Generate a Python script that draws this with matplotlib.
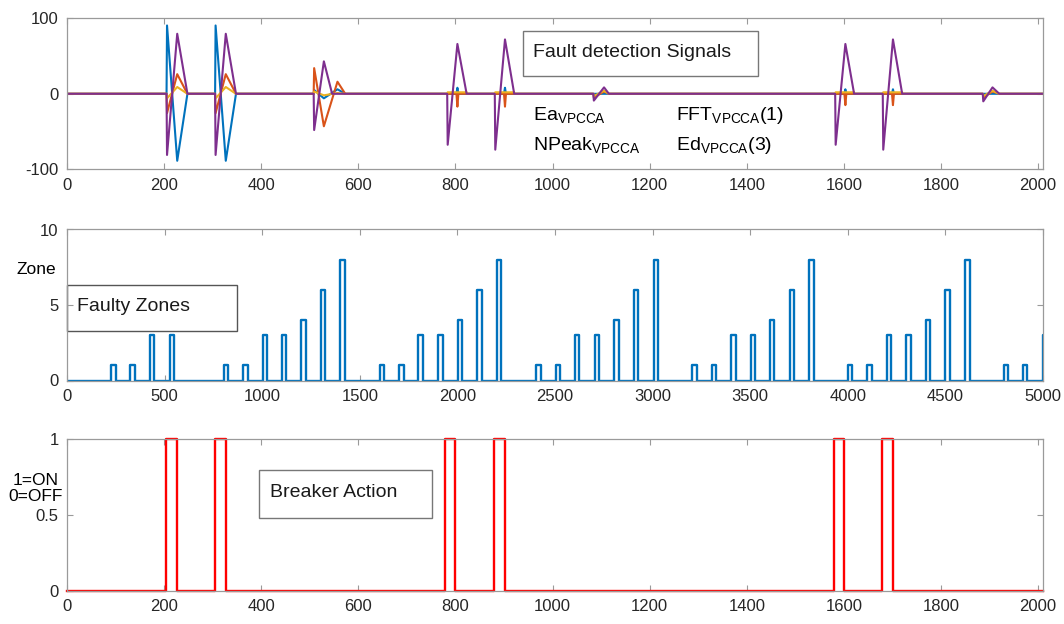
import numpy as np
import matplotlib
matplotlib.use('Agg')
import matplotlib.pyplot as plt
from matplotlib.patches import Rectangle

plt.rcParams['font.family'] = ['Liberation Sans', 'DejaVu Sans']
plt.rcParams['mathtext.default'] = 'regular'
plt.rcParams['axes.unicode_minus'] = False

# ---- top panel: fault detection signals
blue_t = [0, 205, 206, 227, 248, 305, 306, 327, 348, 508, 509, 529, 557, 573,
          802, 804, 806, 900, 902, 904, 1601, 1603, 1605, 1699, 1701, 1703, 2010]
blue_v = [0, 0, 90.5, -88.7, 0, 0, 90.5, -88.7, 0, 0, 5, -6, 6, 0,
          0, 8, 0, 0, 8, 0, 0, 6, 0, 0, 6, 0, 0]

orange_t = [0, 205, 206, 227, 248, 305, 306, 327, 348, 508, 509, 529, 557, 573,
            802, 804, 806, 900, 902, 904, 1084, 1085, 1106, 1116,
            1601, 1603, 1605, 1699, 1701, 1703, 1886, 1887, 1906, 1920, 2010]
orange_v = [0, 0, -25.6, 26, 0, 0, -25.6, 26, 0, 0, 34, -43, 16, 0,
            0, -17, 0, 0, -17, 0, 0, -5, 3, 0,
            0, -15, 0, 0, -15, 0, 0, -5, 3, 0, 0]

yellow_t = [0, 205, 206, 227, 248, 305, 306, 327, 348, 508, 509, 529, 557, 573,
            783, 784, 823, 824, 881, 882, 921, 922, 1084, 1085, 1106, 1116,
            1582, 1583, 1621, 1622, 1680, 1681, 1720, 1721, 1886, 1887, 1906, 1920, 2010]
yellow_v = [0, 0, -6, 9, 0, 0, -6, 9, 0, 0, 3, -2, 1, 0,
            0, 2, 2, 0, 0, 2, 2, 0, 0, -3, 4, 0,
            0, 2, 2, 0, 0, 2, 2, 0, 0, -3, 4, 0, 0]

purple_t = [0, 205, 206, 227, 248, 305, 306, 327, 348, 508, 509, 529, 546,
            783, 784, 804, 823, 881, 882, 902, 921, 1084, 1085, 1106, 1116,
            1582, 1583, 1603, 1621, 1680, 1681, 1701, 1720, 1886, 1887, 1906, 1920, 2010]
purple_v = [0, 0, -81, 79.5, 0, 0, -81, 79.5, 0, 0, -48, 43, 0,
            0, -67.5, 66, 0, 0, -74, 72, 0, 0, -9, 8.5, 0,
            0, -67.5, 66, 0, 0, -74, 72, 0, 0, -10, 8.5, 0, 0]

sig_labels = [r'Ea$_{VPCCA}$', r'NPeak$_{VPCCA}$', r'FFT$_{VPCCA}$(1)', r'Ed$_{VPCCA}$(3)']

# ---- middle panel: faulty zones
zone_start = [226, 325, 425, 526,
              802, 903, 1002, 1101, 1201, 1300, 1401,
              1601, 1701, 1800, 1901, 2002, 2101, 2201,
              2403, 2504, 2602, 2703, 2803, 2904, 3005,
              3202, 3303, 3403, 3502, 3601, 3702, 3802,
              4000, 4099, 4200, 4299, 4400, 4500, 4601,
              4799, 4896, 5000]
zone_level = [1, 1, 3, 3,
              1, 1, 3, 3, 4, 6, 8,
              1, 1, 3, 3, 4, 6, 8,
              1, 1, 3, 3, 4, 6, 8,
              1, 1, 3, 3, 4, 6, 8,
              1, 1, 3, 3, 4, 6, 8,
              1, 1, 3]
zone_width = 23

# ---- bottom panel: breaker action
brk_on = [204, 305, 779, 880, 1580, 1679]
brk_off = [226, 327, 800, 901, 1600, 1701]


def pulses(starts, stops, levels, xend):
    x, y = [0], [0]
    for s, e, h in zip(starts, stops, levels):
        x += [s, s, e, e]
        y += [0, h, h, 0]
    x.append(xend)
    y.append(0)
    return x, y


def style(ax, xlim, xticks, ylim, yticks):
    ax.set_xlim(xlim)
    ax.set_ylim(ylim)
    ax.set_xticks(xticks)
    ax.set_yticks(yticks)
    for s in ax.spines.values():
        s.set_color('#9a9a9a')
        s.set_linewidth(0.9)
    ax.tick_params(direction='in', top=True, right=True, length=4.5, width=0.8,
                   color='#9a9a9a', labelcolor='#262626', labelsize=12, pad=6)


fig = plt.figure(figsize=(10.64, 6.24), dpi=100)
left, width = 67 / 1064, 976 / 1064
ax1 = fig.add_axes([left, 1 - 169.3 / 624, width, 151 / 624])
ax2 = fig.add_axes([left, 1 - 380.5 / 624, width, 151 / 624])
ax3 = fig.add_axes([left, 1 - 591 / 624, width, 152 / 624])

# top
ax1.plot(blue_t, blue_v, color='#0072BD', lw=1.5)
ax1.plot(orange_t, orange_v, color='#D95319', lw=1.5)
ax1.plot(yellow_t, yellow_v, color='#EDB120', lw=1.5)
ax1.plot(purple_t, purple_v, color='#7E2F8E', lw=1.5)
style(ax1, (0, 2010), np.arange(0, 2001, 200), (-100, 100), [-100, 0, 100])
ax1.add_patch(Rectangle((0.467, 0.618), 0.241, 0.298, transform=ax1.transAxes,
                        fill=False, ec='#777777', lw=1))
ax1.text(0.477, 0.772, 'Fault detection Signals', transform=ax1.transAxes,
         fontsize=14, va='center', color='#1a1a1a')
ax1.text(0.477, 0.326, sig_labels[0], transform=ax1.transAxes, fontsize=14, va='baseline')
ax1.text(0.477, 0.128, sig_labels[1], transform=ax1.transAxes, fontsize=14, va='baseline')
ax1.text(0.624, 0.326, sig_labels[2], transform=ax1.transAxes, fontsize=14, va='baseline')
ax1.text(0.624, 0.128, sig_labels[3], transform=ax1.transAxes, fontsize=14, va='baseline')

# middle
zx, zy = pulses(zone_start, [s + zone_width for s in zone_start], zone_level, 5000)
ax2.plot(zx, zy, color='#0072BD', lw=1.7)
style(ax2, (0, 5000), np.arange(0, 5001, 500), (0, 10), [0, 5, 10])
ax2.add_patch(Rectangle((0, 0.327), 0.174, 0.306, transform=ax2.transAxes,
                        fill=False, ec='#555555', lw=1, clip_on=False))
ax2.text(0.010, 0.487, 'Faulty Zones', transform=ax2.transAxes,
         fontsize=14, va='center', color='#1a1a1a')
fig.text(36 / 1064, 1 - 269 / 624, 'Zone', fontsize=12.5, ha='center', va='center')

# bottom
bx, by = pulses(brk_on, brk_off, [1] * len(brk_on), 2010)
ax3.plot(bx, by, color='#FF0000', lw=1.7, clip_on=False)
style(ax3, (0, 2010), np.arange(0, 2001, 200), (0, 1), [0, 0.5, 1])
ax3.set_yticklabels(['0', '0.5', '1'])
ax3.add_patch(Rectangle((0.197, 0.483), 0.177, 0.313, transform=ax3.transAxes,
                        fill=False, ec='#777777', lw=1))
ax3.text(0.2085, 0.651, 'Breaker Action', transform=ax3.transAxes,
         fontsize=14, va='center', color='#1a1a1a')
fig.text(36 / 1064, 1 - 488.5 / 624, '1=ON\n0=OFF', fontsize=12.5, ha='center',
         va='center', linespacing=1.15)

fig.savefig('out.png', dpi=100)
